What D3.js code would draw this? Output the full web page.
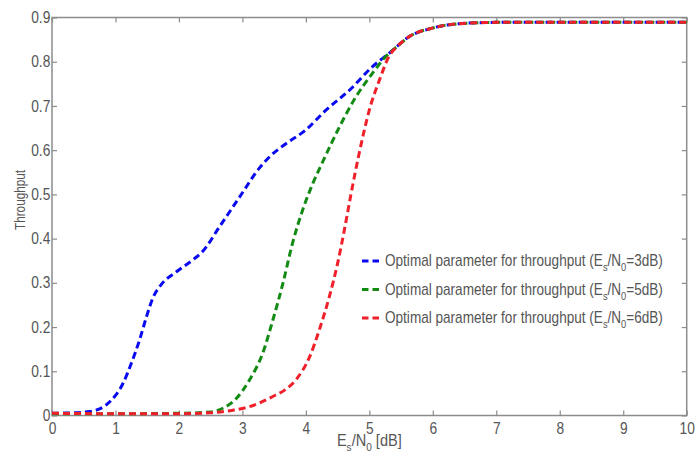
<!DOCTYPE html>
<html>
<head>
<meta charset="utf-8">
<script src="https://cdn.jsdelivr.net/npm/d3@7"></script>
<style>
  body { margin: 0; background: #fff; }
  text { font-family: "Liberation Sans", Arial, sans-serif; }
</style>
</head>
<body>
<div id="chart"></div>
<script>
// values
const xTicks = [0, 1, 2, 3, 4, 5, 6, 7, 8, 9, 10];
const yTicks = [0, 0.1, 0.2, 0.3, 0.4, 0.5, 0.6, 0.7, 0.8, 0.9];

const blueX = [0, 0.3, 0.6, 0.91, 1.12, 1.25, 1.38, 1.49, 1.59, 1.72, 1.96, 2.22, 2.38, 2.64, 2.96, 3.27, 3.45, 3.64, 4.0, 4.32, 4.69, 5.05, 5.31, 5.63, 5.99, 6.42, 7.0, 8.0, 10];
const blueY = [0.005, 0.006, 0.009, 0.031, 0.073, 0.118, 0.171, 0.224, 0.266, 0.296, 0.325, 0.352, 0.372, 0.427, 0.495, 0.56, 0.588, 0.61, 0.646, 0.691, 0.736, 0.789, 0.819, 0.857, 0.876, 0.886, 0.889, 0.889, 0.889];

const greenX = [0, 1, 2, 2.5, 2.7, 2.88, 3.11, 3.32, 3.48, 3.64, 3.79, 3.95, 4.11, 4.27, 4.53, 4.79, 5.05, 5.26, 5.45, 5.63, 5.99, 6.42, 7, 8, 10];
const greenY = [0.004, 0.004, 0.005, 0.008, 0.017, 0.035, 0.080, 0.141, 0.216, 0.30, 0.39, 0.465, 0.525, 0.575, 0.653, 0.721, 0.774, 0.812, 0.836, 0.857, 0.876, 0.886, 0.889, 0.889, 0.889];

const redX = [0, 1, 2, 2.5, 2.85, 3.11, 3.48, 3.67, 3.85, 4.06, 4.21, 4.37, 4.5, 4.62, 4.71, 4.84, 5.0, 5.16, 5.31, 5.45, 5.63, 5.99, 6.42, 7, 8, 10];
const redY = [0.005, 0.004, 0.004, 0.006, 0.012, 0.02, 0.043, 0.058, 0.082, 0.133, 0.193, 0.269, 0.344, 0.43, 0.50, 0.593, 0.691, 0.759, 0.812, 0.836, 0.857, 0.876, 0.886, 0.889, 0.889, 0.889];

const seriesColors = ["#0a0af0", "#138a13", "#f0202a"];
const seriesDb = ["3dB", "5dB", "6dB"];

const width = 695, height = 461;
const margin = { top: 18, right: 8, bottom: 45, left: 52 };

const svg = d3.select("#chart")
    .append("svg")
    .attr("width", width)
    .attr("height", height);

const x = d3.scaleLinear().domain([0, 10]).range([margin.left, width - margin.right - 0.3]);
const y = d3.scaleLinear().domain([0, 0.9]).range([height - margin.bottom - 0.5, margin.top - 0.5]);

const axisColor = "#8c8c8c";
const labelColor = "#555";

// the original font is a narrow one, so squeeze text horizontally to a target width
function squeeze(sel, target, tx, ty, extra) {
    sel.each(function () {
        const w = this.getBBox().width;
        const sx = target / w;
        d3.select(this).attr("transform", `translate(${tx},${ty}) ${extra || ""} scale(${sx},1)`);
    });
}

// frame
svg.append("rect")
    .attr("x", x(0))
    .attr("y", y(0.9))
    .attr("width", x(10) - x(0))
    .attr("height", y(0) - y(0.9))
    .attr("fill", "none")
    .attr("stroke", axisColor)
    .attr("stroke-width", 1.5);

// axes, ticks pointing inward
const xAxis = svg.append("g")
    .attr("transform", `translate(0,${y(0)})`)
    .call(d3.axisBottom(x).tickValues(xTicks).tickSizeInner(-5).tickSizeOuter(0).tickPadding(7).tickFormat(d3.format("d")));
const xAxisTop = svg.append("g")
    .attr("transform", `translate(0,${y(0.9)})`)
    .call(d3.axisTop(x).tickValues(xTicks).tickSizeInner(-5).tickSizeOuter(0).tickFormat(""));
const yAxis = svg.append("g")
    .attr("transform", `translate(${x(0)},0)`)
    .call(d3.axisLeft(y).tickValues(yTicks).tickSizeInner(-5).tickSizeOuter(0).tickPadding(2).tickFormat(d => d === 0 ? "0" : d3.format(".1f")(d)));
const yAxisRight = svg.append("g")
    .attr("transform", `translate(${x(10)},0)`)
    .call(d3.axisRight(y).tickValues(yTicks).tickSizeInner(-5).tickSizeOuter(0).tickFormat(""));

[xAxis, xAxisTop, yAxis, yAxisRight].forEach(g => {
    g.select(".domain").remove();
    g.selectAll("line").attr("stroke", axisColor).attr("stroke-width", 1.2);
    g.selectAll("text")
        .attr("fill", labelColor)
        .attr("transform", "scale(0.86,1)")
        .style("font-family", '"Liberation Sans", Arial, sans-serif')
        .style("font-size", "16px");
});

// curves
const line = d3.line()
    .x(d => x(d[0]))
    .y(d => y(d[1]))
    .curve(d3.curveMonotoneX);

const series = [
    d3.zip(blueX, blueY),
    d3.zip(greenX, greenY),
    d3.zip(redX, redY)
];

svg.append("g")
    .selectAll("path")
    .data(series)
    .enter()
    .append("path")
    .attr("d", line)
    .attr("fill", "none")
    .attr("stroke", (d, i) => seriesColors[i])
    .attr("stroke-width", 3)
    .attr("stroke-dasharray", "7,4");

// legend
const legendRows = svg.append("g")
    .selectAll("g")
    .data(seriesDb)
    .enter()
    .append("g")
    .attr("transform", (d, i) => `translate(362,${261 + i * 28.5})`);

legendRows.append("line")
    .attr("x1", 0)
    .attr("x2", 17)
    .attr("y1", 0)
    .attr("y2", 0)
    .attr("stroke", (d, i) => seriesColors[i])
    .attr("stroke-width", 3)
    .attr("stroke-dasharray", "6.5,4");

const legendText = legendRows.append("text")
    .attr("fill", labelColor)
    .style("font-size", "16px");
legendText.append("tspan").text("Optimal parameter for throughput (E");
legendText.append("tspan").attr("dy", 5).style("font-size", "11px").text("s");
legendText.append("tspan").attr("dy", -5).text("/N");
legendText.append("tspan").attr("dy", 5).style("font-size", "11px").text("0");
legendText.append("tspan").attr("dy", -5).text(d => "=" + d + ")");
squeeze(legendText, 278, 23, 5);

// axis titles
const xTitle = svg.append("text")
    .attr("text-anchor", "middle")
    .attr("fill", labelColor)
    .style("font-size", "16px");
xTitle.append("tspan").text("E");
xTitle.append("tspan").attr("dy", 5).style("font-size", "11px").text("s");
xTitle.append("tspan").attr("dy", -5).text("/N");
xTitle.append("tspan").attr("dy", 5).style("font-size", "11px").text("0");
xTitle.append("tspan").attr("dy", -5).text(" [dB]");
squeeze(xTitle, 65, x(5), 446);

const yTitle = svg.append("text")
    .attr("text-anchor", "middle")
    .attr("fill", labelColor)
    .style("font-size", "14.5px")
    .text("Throughput");
squeeze(yTitle, 60, 25, 200, "rotate(-90)");
</script>
</body>
</html>
